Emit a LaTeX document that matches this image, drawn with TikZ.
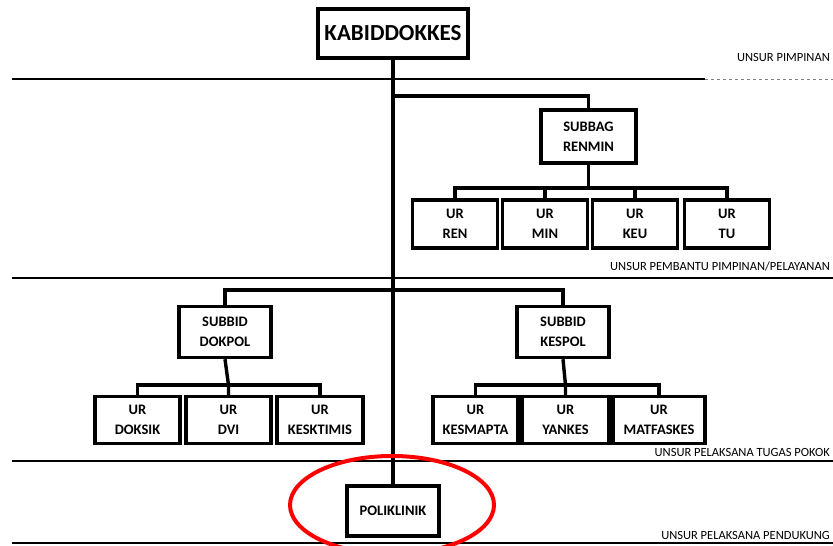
\documentclass[tikz,border=0pt]{standalone}
\usepackage{fontspec}
\setmainfont{Carlito}
\begin{document}
\begin{tikzpicture}[x=1pt,y=-1pt,
  box/.style={draw,line width=3.4pt,fill=white,align=center,inner sep=0pt,
    font=\bfseries\fontsize{14.5}{20}\selectfont},
  conn/.style={line width=3.4pt},
  sect/.style={line width=1.5pt},
  unsur/.style={anchor=east,inner sep=0pt,font=\fontsize{12.5}{14}\selectfont}]
\clip (0,0) rectangle (833,546);
\fill[white] (0,0) rectangle (833,546);
% section lines
\draw[sect] (12,79) -- (705,79);
\draw[sect,dashed,line width=1pt,gray] (705,79) -- (833,79);
\draw[sect] (12,278) -- (833,278);
\draw[sect] (12,461) -- (833,461);
\draw[sect] (12,543) -- (833,543);
% labels
\node[unsur] (u1) at (830,57) {UNSUR PIMPINAN};
\node[unsur] (u2) at (830,266) {UNSUR PEMBANTU PIMPINAN/PELAYANAN};
\node[unsur] (u3) at (830,452) {UNSUR PELAKSANA TUGAS POKOK};
\node[unsur] (u4) at (830,535) {UNSUR PELAKSANA PENDUKUNG};
% nodes
\node[box,minimum width=150pt,minimum height=49pt,font=\bfseries\fontsize{23}{25}\selectfont] (kab) at (393,33.5) {KABIDDOKKES};
\node[box,minimum width=95pt,minimum height=53pt] (renmin) at (588.5,136.5) {SUBBAG\\RENMIN};
\node[box,minimum width=85pt,minimum height=48pt] (ren) at (455,224) {UR\\REN};
\node[box,minimum width=85pt,minimum height=48pt] (min) at (545,224) {UR\\MIN};
\node[box,minimum width=85pt,minimum height=48pt] (keu) at (635,224) {UR\\KEU};
\node[box,minimum width=85pt,minimum height=48pt] (tu) at (727,224) {UR\\TU};
\node[box,minimum width=92pt,minimum height=51pt] (dokpol) at (225,332) {SUBBID\\DOKPOL};
\node[box,minimum width=92pt,minimum height=51pt] (kespol) at (563,332) {SUBBID\\KESPOL};
\node[box,minimum width=85pt,minimum height=47pt] (doksik) at (137.5,420) {UR\\DOKSIK};
\node[box,minimum width=85pt,minimum height=47pt] (dvi) at (228.5,420) {UR\\DVI};
\node[box,minimum width=86pt,minimum height=47pt] (kesk) at (320,420) {UR\\KESKTIMIS};
\node[box,minimum width=85pt,minimum height=47pt] (kesm) at (475.5,420) {UR\\KESMAPTA};
\node[box,minimum width=87pt,minimum height=47pt] (yankes) at (565.5,420) {UR\\YANKES};
\node[box,minimum width=92pt,minimum height=47pt] (matf) at (659,420) {UR\\MATFASKES};
\node[box,minimum width=92pt,minimum height=50pt] (poli) at (393,511) {POLIKLINIK};
% connectors
\coordinate (j1) at (393,96);
\draw[conn] (kab.south) -- (poli.north);
\draw[conn] (j1) -| (renmin.north);
\draw[conn] (ren.north) |- (tu.north |- 0,188) -- (tu.north);
\draw[conn] (renmin.south) -- (renmin.south |- 0,188);
\draw[conn] (min.north) -- (min.north |- 0,188);
\draw[conn] (keu.north) -- (keu.north |- 0,188);
\draw[conn] (dokpol.north) |- (kespol.north |- 0,290) -- (kespol.north);
\draw[conn] (doksik.north) |- (kesk.north |- 0,385) -- (kesk.north);
\draw[conn] (dokpol.south) -- (dvi.north |- 0,385) -- (dvi.north);
\draw[conn] (kesm.north) |- (matf.north |- 0,385) -- (matf.north);
\draw[conn] (kespol.south) -- (yankes.north |- 0,385) -- (yankes.north);
% red ellipse
\draw[red,line width=4pt] (392,505) ellipse [x radius=102, y radius=49];
\end{tikzpicture}
\end{document}
